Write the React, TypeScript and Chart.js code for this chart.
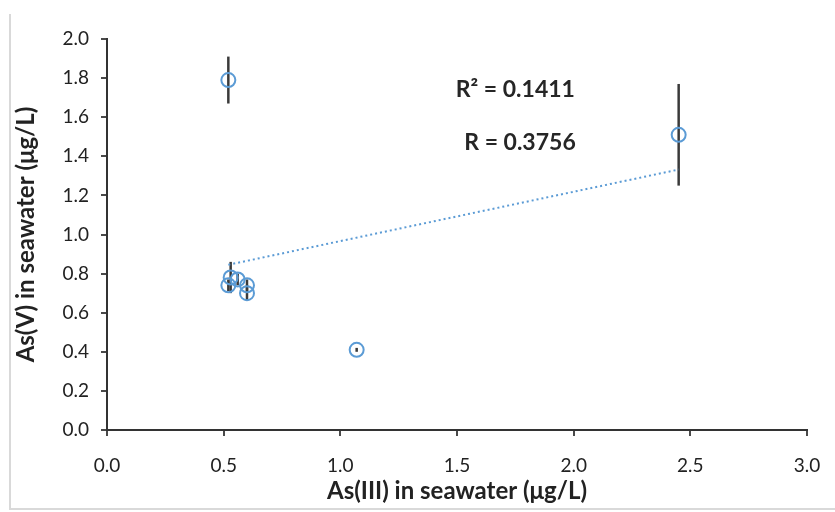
import React, { useEffect, useRef } from "react";
import { Chart, registerables } from "chart.js";

Chart.register(...registerables);

const asIII = [0.52, 0.53, 0.56, 0.6, 0.6, 1.07, 2.45, 0.52];
const asV = [0.74, 0.78, 0.77, 0.74, 0.7, 0.41, 1.51, 1.79];
const asVErr = [0.03, 0.08, 0.03, 0.03, 0.04, 0.01, 0.26, 0.12];
const xTicks = [0, 0.5, 1, 1.5, 2, 2.5, 3];
const yTicks = [0, 0.2, 0.4, 0.6, 0.8, 1, 1.2, 1.4, 1.6, 1.8, 2];
const annotations = ["R² = 0.1411", "R = 0.3756"];
const annotationX = [1.75, 1.77];
const annotationY = [1.74, 1.47];

function regression(xs: number[], ys: number[]) {
  const n = xs.length;
  const mx = xs.reduce((a, b) => a + b, 0) / n;
  const my = ys.reduce((a, b) => a + b, 0) / n;
  let sxy = 0, sxx = 0;
  for (let i = 0; i < n; i++) {
    sxy += (xs[i] - mx) * (ys[i] - my);
    sxx += (xs[i] - mx) ** 2;
  }
  const slope = sxy / sxx;
  return { slope, intercept: my - slope * mx };
}

export default function App() {
  const ref = useRef<HTMLCanvasElement>(null);
  useEffect(() => {
    document.body.style.margin = "0";
    const { slope, intercept } = regression(asIII, asV);
    const xmin = Math.min(...asIII);
    const xmax = Math.max(...asIII);
    const trend = [
      { x: xmin, y: intercept + slope * xmin },
      { x: xmax, y: intercept + slope * xmax },
    ];
    const points = asIII.map((x, i) => ({ x, y: asV[i] }));

    const errorBars = {
      id: "errorBars",
      beforeDatasetsDraw(chart: any) {
        const { ctx, scales } = chart;
        ctx.save();
        ctx.strokeStyle = "#3a3a3a";
        ctx.lineWidth = 2.5;
        asIII.forEach((x, i) => {
          const px = scales.x.getPixelForValue(x);
          const y1 = scales.y.getPixelForValue(asV[i] - asVErr[i]);
          const y2 = scales.y.getPixelForValue(asV[i] + asVErr[i]);
          ctx.beginPath();
          ctx.moveTo(px, y1);
          ctx.lineTo(px, y2);
          ctx.stroke();
        });
        ctx.restore();
      },
      afterDraw(chart: any) {
        const { ctx, scales } = chart;
        ctx.save();
        ctx.fillStyle = "#262626";
        ctx.font = "bold 23px Lato";
        ctx.textAlign = "center";
        ctx.textBaseline = "middle";
        annotations.forEach((t, i) => {
          ctx.fillText(
            t,
            scales.x.getPixelForValue(annotationX[i]),
            scales.y.getPixelForValue(annotationY[i])
          );
        });
        // frame
        ctx.strokeStyle = "#d9d9d9";
        ctx.lineWidth = 2;
        ctx.beginPath();
        ctx.moveTo(10, 14);
        ctx.lineTo(10, 509);
        ctx.lineTo(835, 509);
        ctx.stroke();
        ctx.restore();
      },
    };

    const axisCommon = {
      grid: {
        display: true,
        drawOnChartArea: false,
        drawTicks: true,
        tickLength: 6,
        color: "#4a4a4a",
        lineWidth: 2,
      },
      border: { display: true, color: "#333333", width: 2 },
    };

    const chart = new Chart(ref.current!, {
      type: "scatter",
      data: {
        datasets: [
          {
            label: "points",
            data: points,
            pointStyle: "circle",
            pointRadius: 7,
            pointBorderWidth: 2,
            borderColor: "#5b9bd5",
            backgroundColor: "rgba(0,0,0,0)",
            showLine: false,
            order: 1,
          },
          {
            label: "trend",
            data: trend,
            showLine: true,
            borderColor: "#5b9bd5",
            borderWidth: 2,
            borderDash: [2, 3],
            pointRadius: 0,
            fill: false,
            order: 2,
          },
        ],
      },
      options: {
        animation: false,
        responsive: false,
        layout: { padding: { left: 12, right: 28, top: 39, bottom: 6 } },
        plugins: { legend: { display: false }, tooltip: { enabled: false } },
        scales: {
          x: {
            type: "linear",
            min: 0,
            max: 3,
            afterBuildTicks: (s: any) => {
              s.ticks = xTicks.map((v) => ({ value: v }));
            },
            afterFit: (s: any) => {
              s.height = 76;
              s.paddingLeft = 0;
              s.paddingRight = 0;
            },
            ticks: {
              padding: 18,
              color: "#222222",
              font: { family: "Lato", size: 19 },
              callback: (v: any) => Number(v).toFixed(1),
            },
            title: {
              display: true,
              text: "As(III) in seawater (μg/L)",
              color: "#222222",
              font: { family: "Lato", size: 24, weight: "bold" },
              padding: { top: 2, bottom: 0 },
            },
            ...axisCommon,
          },
          y: {
            type: "linear",
            min: 0,
            max: 2,
            afterBuildTicks: (s: any) => {
              s.ticks = yTicks.map((v) => ({ value: v }));
            },
            afterFit: (s: any) => {
              s.width = 95;
              s.paddingTop = 0;
              s.paddingBottom = 0;
            },
            ticks: {
              padding: 12,
              color: "#222222",
              font: { family: "Lato", size: 19 },
              callback: (v: any) => Number(v).toFixed(1),
            },
            title: {
              display: true,
              text: "As(V) in seawater (μg/L)",
              color: "#222222",
              font: { family: "Lato", size: 24, weight: "bold" },
              padding: { top: 0, bottom: 8 },
            },
            ...axisCommon,
          },
        },
      },
      plugins: [errorBars],
    } as any);
    return () => chart.destroy();
  }, []);
  return <canvas ref={ref} width={835} height={512} style={{ display: "block" }} />;
}
